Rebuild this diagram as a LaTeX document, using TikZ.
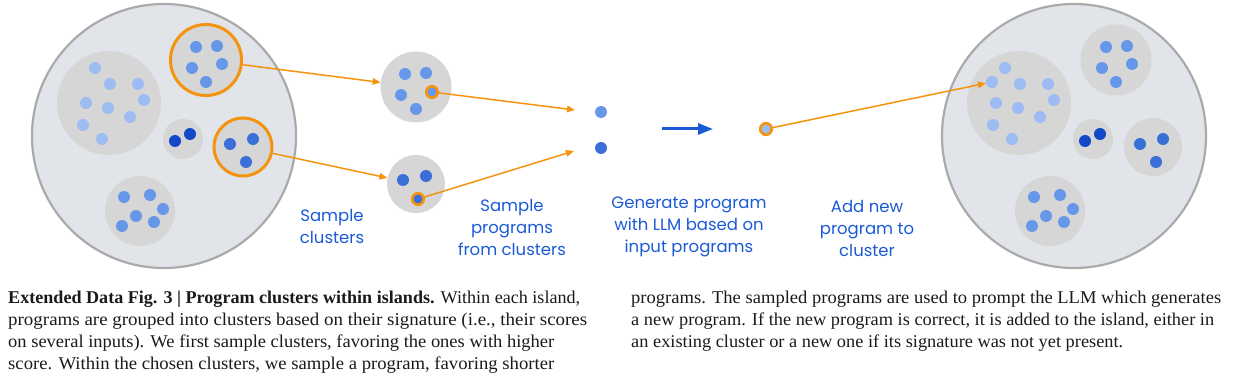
\documentclass[tikz,border=0pt]{standalone}
\usepackage{fontspec}
\usepackage{graphicx}
\usetikzlibrary{arrows.meta}
\newfontfamily\lblfont{Poppins}
\newfontfamily\capfont{Liberation Serif}
\definecolor{islfill}{RGB}{225,228,233}
\definecolor{islline}{RGB}{170,170,170}
\definecolor{clfill}{RGB}{214,214,214}
\definecolor{dlight}{RGB}{157,188,243}
\definecolor{dmid}{RGB}{103,151,232}
\definecolor{dmdark}{RGB}{58,111,216}
\definecolor{ddark}{RGB}{17,73,201}
\definecolor{orng}{RGB}{245,147,15}
\definecolor{lblblue}{RGB}{26,90,215}
\definecolor{captext}{RGB}{26,26,26}
\tikzset{
  island/.style={circle,draw=islline,fill=islfill,line width=2.2pt,minimum size=#1,inner sep=0pt},
  cluster/.style={circle,fill=clfill,minimum size=#1,inner sep=0pt},
  chosen/.style={draw=orng,line width=3pt},
  plain/.style={},
  dot/.style={circle,fill=#1,minimum size=12pt,inner sep=0pt},
  ringdot/.style={circle,fill=#1,draw=orng,line width=2.6pt,minimum size=11.5pt,inner sep=0pt},
  flow/.style={draw=orng,line width=1.5pt,-{Triangle[length=8pt,width=6.5pt]}},
  bigarrow/.style={draw=lblblue,line width=3pt,-{Triangle[length=15pt,width=11pt]}},
  lbl/.style={align=center,text=lblblue,font=\lblfont\fontsize{16.5}{22}\selectfont,inner sep=0pt},
  capline/.style={anchor=base west,inner sep=0pt,text=captext,font=\capfont\fontsize{18}{22}\selectfont}
}
\newcommand\drawisland[4]{%
  \begin{scope}[shift={(#2,0)},name prefix=#1-]
    \node[island=264pt] (isl) at (164,136) {};
    \node[cluster=104pt] (big) at (109,103) {};
    \foreach \p [count=\i] in {(95,68),(110,84),(138,84),(144,100),(86,103),(108,108),(130,117),(83,125),(102,139)}
      \node[dot=dlight] (b\i) at \p {};
    \node[cluster=71pt,#3] (c1) at (206,60) {};
    \foreach \p [count=\i] in {(196,47),(217,46),(192,68),(222,64),(206,82)}
      \node[dot=dmid] (c1d\i) at \p {};
    \node[cluster=40pt] (sm) at (183,139) {};
    \node[dot=ddark] (smd1) at (175,141) {};
    \node[dot=ddark] (smd2) at (190,134) {};
    \node[cluster=58pt,#4] (c2) at (243,147) {};
    \foreach \p [count=\i] in {(230,144),(253,139),(246,162)}
      \node[dot=dmdark] (c2d\i) at \p {};
    \node[cluster=70pt] (bot) at (140,211) {};
    \foreach \p [count=\i] in {(124,197),(150,195),(163,209),(136,216),(154,222),(122,226)}
      \node[dot=dmid] (botd\i) at \p {};
  \end{scope}}
\begin{document}
\begin{tikzpicture}[x=1pt,y=-1pt]
\useasboundingbox (0,0) rectangle (1257,390);
% islands
\drawisland{L}{0}{chosen}{chosen}
\drawisland{R}{910}{plain}{plain}
\node[dot=dlight] (Rnew) at (992,82) {};
% sampled clusters
\node[cluster=71pt] (A) at (416,87) {};
\node[dot=dmid] (Ad1) at (405,74) {};
\node[dot=dmid] (Ad2) at (426,73) {};
\node[dot=dmid] (Ad3) at (401,95) {};
\node[dot=dmid] (Ad4) at (416,109) {};
\node[ringdot=dmid] (Asel) at (432,92) {};
\node[cluster=58pt] (B) at (416,184) {};
\node[dot=dmdark] (Bd1) at (403,180) {};
\node[dot=dmdark] (Bd2) at (426,176) {};
\node[ringdot=dmdark] (Bsel) at (418,199) {};
% sampled programs
\node[dot=dmid] (P1) at (601,112) {};
\node[dot=dmdark] (P2) at (601,148) {};
\coordinate (tipA) at (575,110);
\coordinate (tipB) at (574,151);
% generated program
\coordinate (gS) at (662,129);
\coordinate (gE) at (713,129);
\node[ringdot=dlight] (new) at (766,129) {};
% connectors
\draw[flow] (L-c1) -- (A);
\draw[flow] (L-c2) -- (B);
\draw[flow] (Asel) -- (tipA);
\draw[flow] (Bsel) -- (tipB);
\draw[bigarrow] (gS) -- (gE);
\draw[flow] (new) -- (Rnew);
% labels
\node[lbl] (l1) at (332,226) {Sample\\clusters};
\node[lbl] (l2) at (512,227) {Sample\\programs\\from clusters};
\node[lbl] (l3) at (689,227) {Generate program\\with LLM based on\\input programs};
\node[lbl] (l4) at (867,228) {Add new\\program to\\cluster};
% caption
\node[capline] (cap1) at (8,303) {\resizebox{572pt}{\height}{\textbf{Extended Data Fig. 3 | Program clusters within islands.} Within each island,}};
\node[capline] (cap2) at (8,325) {\resizebox{579pt}{\height}{programs are grouped into clusters based on their signature (i.e., their scores}};
\node[capline] (cap3) at (8,347) {\resizebox{546pt}{\height}{on several inputs). We first sample clusters, favoring the ones with higher}};
\node[capline] (cap4) at (8,369) {\resizebox{546pt}{\height}{score. Within the chosen clusters, we sample a program, favoring shorter}};
\node[capline] (cap5) at (631,303) {\resizebox{590pt}{\height}{programs. The sampled programs are used to prompt the LLM which generates}};
\node[capline] (cap6) at (631,325) {\resizebox{583pt}{\height}{a new program. If the new program is correct, it is added to the island, either in}};
\node[capline] (cap7) at (631,347) {\resizebox{492pt}{\height}{an existing cluster or a new one if its signature was not yet present.}};
\end{tikzpicture}
\end{document}
